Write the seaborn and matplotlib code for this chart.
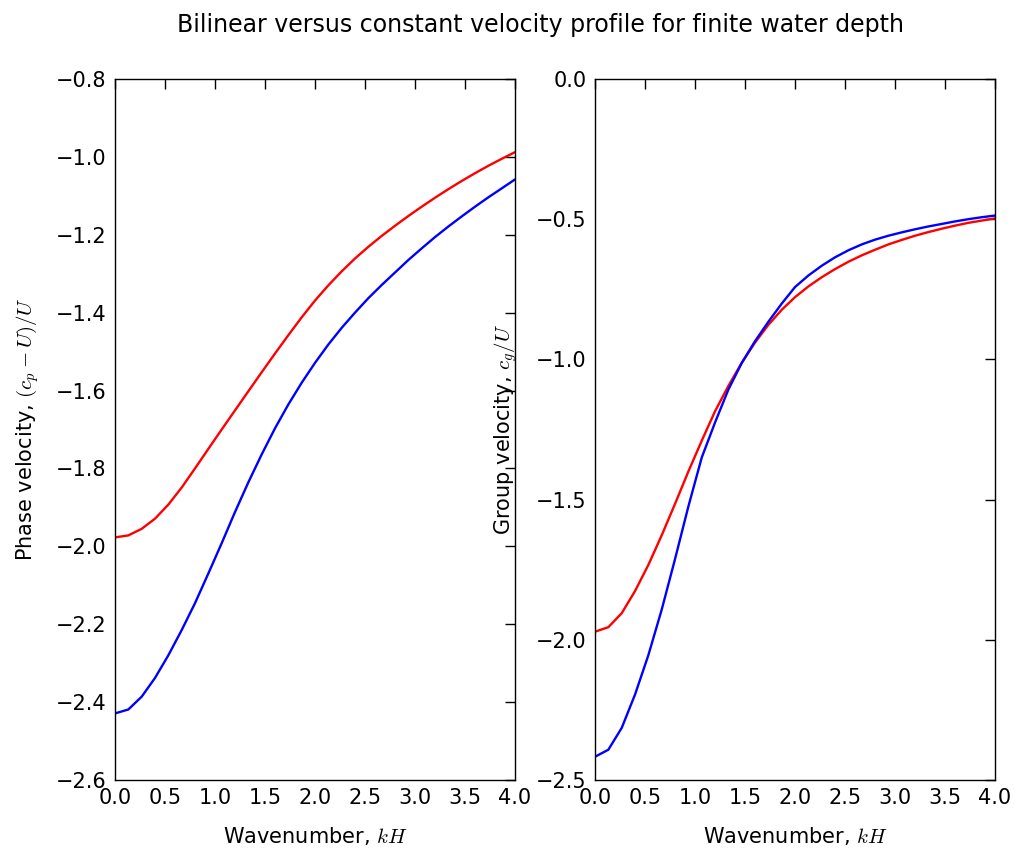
import matplotlib
matplotlib.use("Agg")
import matplotlib.pyplot as plt
import seaborn as sns

# wavenumber samples kH
kH = [0.0, 0.133, 0.267, 0.4, 0.533, 0.667, 0.8, 0.933, 1.067, 1.2,
      1.333, 1.467, 1.6, 1.733, 1.867, 2.0, 2.133, 2.267, 2.4, 2.533,
      2.667, 2.8, 2.933, 3.067, 3.2, 3.333, 3.467, 3.6, 3.733, 3.867, 4.0]

# phase velocity (c_p - U)/U
phase_red = [-1.977, -1.972, -1.955, -1.929, -1.893, -1.849, -1.800, -1.750, -1.700, -1.651,
             -1.602, -1.553, -1.505, -1.458, -1.412, -1.369, -1.330, -1.294, -1.261, -1.231,
             -1.203, -1.177, -1.152, -1.128, -1.105, -1.083, -1.062, -1.042, -1.023, -1.005, -0.988]
phase_blue = [-2.429, -2.419, -2.386, -2.338, -2.280, -2.215, -2.146, -2.070, -1.992, -1.912,
              -1.836, -1.764, -1.697, -1.636, -1.580, -1.529, -1.482, -1.439, -1.400, -1.363,
              -1.329, -1.297, -1.265, -1.235, -1.206, -1.179, -1.153, -1.128, -1.104, -1.081, -1.058]

# group velocity c_g/U
group_red = [-1.971, -1.955, -1.905, -1.826, -1.733, -1.627, -1.515, -1.400, -1.290, -1.185,
             -1.095, -1.012, -0.940, -0.877, -0.823, -0.778, -0.740, -0.707, -0.678, -0.652,
             -0.629, -0.609, -0.590, -0.574, -0.559, -0.546, -0.534, -0.523, -0.513, -0.505, -0.497]
group_blue = [-2.417, -2.392, -2.314, -2.195, -2.055, -1.892, -1.712, -1.525, -1.350, -1.225,
              -1.108, -1.013, -0.935, -0.866, -0.801, -0.742, -0.701, -0.666, -0.636, -0.611,
              -0.590, -0.573, -0.559, -0.547, -0.536, -0.526, -0.517, -0.508, -0.500, -0.493, -0.487]

sns.set_style("white")
plt.rcParams["font.family"] = ["DejaVu Sans"]
plt.rcParams["mathtext.fontset"] = "cm"
plt.rcParams["text.color"] = "black"
plt.rcParams["axes.labelcolor"] = "black"
plt.rcParams["xtick.color"] = "black"
plt.rcParams["ytick.color"] = "black"
plt.rcParams["xtick.direction"] = "in"
plt.rcParams["ytick.direction"] = "in"
plt.rcParams["xtick.top"] = True
plt.rcParams["ytick.right"] = True

fig = plt.figure(figsize=(10.24, 8.52), dpi=100)
ax1 = fig.add_axes([0.1123, 0.0845, 0.3906, 0.8228])
ax2 = fig.add_axes([0.5811, 0.0845, 0.3906, 0.8228])

sns.lineplot(x=kH, y=phase_red, color="red", lw=1.7, ax=ax1)
sns.lineplot(x=kH, y=phase_blue, color="blue", lw=1.7, ax=ax1)
sns.lineplot(x=kH, y=group_red, color="red", lw=1.7, ax=ax2)
sns.lineplot(x=kH, y=group_blue, color="blue", lw=1.7, ax=ax2)

ax1.set_xlim(0, 4)
ax1.set_ylim(-2.6, -0.8)
ax1.set_yticks([-2.6, -2.4, -2.2, -2.0, -1.8, -1.6, -1.4, -1.2, -1.0, -0.8])
ax2.set_xlim(0, 4)
ax2.set_ylim(-2.5, 0.0)
ax2.set_yticks([-2.5, -2.0, -1.5, -1.0, -0.5, 0.0])

for ax in (ax1, ax2):
    ax.set_xticks([0.0, 0.5, 1.0, 1.5, 2.0, 2.5, 3.0, 3.5, 4.0])
    ax.tick_params(which="major", length=7, width=1, labelsize=15, pad=6,
                   top=True, right=True, color="black")
    for sp in ax.spines.values():
        sp.set_color("black")
        sp.set_linewidth(1.0)
    ax.set_xlabel("Wavenumber, $kH$", fontsize=15, labelpad=12)

ax1.set_ylabel("Phase velocity, $(c_p - U)/U$", fontsize=15, labelpad=11)
ax2.set_ylabel("Group velocity, $c_g/U$", fontsize=15, labelpad=12)

fig.suptitle("Bilinear versus constant velocity profile for finite water depth",
             fontsize=17, x=0.528, y=0.985)

fig.savefig("out.png", dpi=100, facecolor="white")
